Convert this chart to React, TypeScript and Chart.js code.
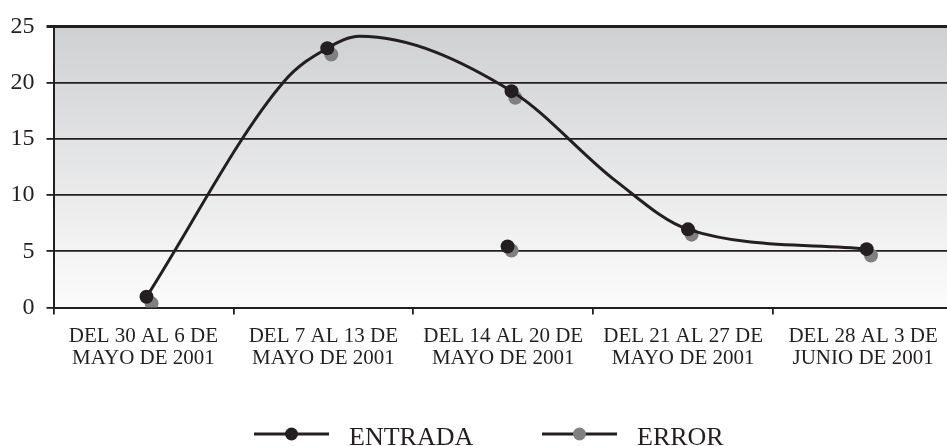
import React, { useEffect, useRef } from "react";
import { Chart, registerables } from "chart.js";

Chart.register(...registerables);

const categories: string[][] = [
  ["DEL 30 AL 6 DE", "MAYO DE 2001"],
  ["DEL 7 AL 13 DE", "MAYO DE 2001"],
  ["DEL 14 AL 20 DE", "MAYO DE 2001"],
  ["DEL 21 AL 27 DE", "MAYO DE 2001"],
  ["DEL 28 AL 3 DE", "JUNIO DE 2001"],
];

// ENTRADA markers (one off-curve marker in the third week)
const entradaX = [0.517, 1.522, 2.546, 2.524, 3.527, 4.52];
const entradaY = [0.95, 23.06, 19.24, 5.42, 6.95, 5.19];

// ENTRADA smoothed curve, vertices
const curveX = [0.517, 1.279, 1.522, 1.701, 2.546, 3.127, 3.527, 4.52];
const curveY = [0.95, 20.06, 23.06, 24.12, 19.24, 11.24, 6.95, 5.19];

// ERROR markers
const errorX = [0.545, 1.544, 2.567, 2.546, 3.547, 4.544];
const errorY = [0.37, 22.5, 18.65, 5.07, 6.48, 4.63];

const yMin = 0;
const yMax = 25;
const yStep = 5;

const seriesNames = ["ENTRADA", "ERROR"];

const DARK = "#231f20";
const GRAY = "#808082";
const FONT = "'Liberation Serif', 'Times New Roman', serif";

const toPoints = (xs: number[], ys: number[]) => xs.map((x, i) => ({ x, y: ys[i] }));

const bgPlugin = {
  id: "bgGradient",
  beforeDraw(chart: any) {
    const { ctx, chartArea } = chart;
    if (!chartArea) return;
    const g = ctx.createLinearGradient(0, chartArea.top, 0, chartArea.bottom);
    g.addColorStop(0, "#cfd0d2");
    g.addColorStop(1, "#fcfcfc");
    ctx.save();
    ctx.fillStyle = g;
    ctx.fillRect(chartArea.left, chartArea.top, chartArea.right - chartArea.left, chartArea.bottom - chartArea.top);
    ctx.restore();
  },
};

const legendPlugin = {
  id: "customLegend",
  afterDraw(chart: any) {
    const { ctx } = chart;
    const items = [
      { name: seriesNames[0], color: DARK, x0: 254 },
      { name: seriesNames[1], color: GRAY, x0: 542 },
    ];
    const y = 434;
    ctx.save();
    items.forEach((it) => {
      ctx.strokeStyle = DARK;
      ctx.lineWidth = 3;
      ctx.beginPath();
      ctx.moveTo(it.x0, y);
      ctx.lineTo(it.x0 + 75, y);
      ctx.stroke();
      ctx.fillStyle = it.color;
      ctx.beginPath();
      ctx.arc(it.x0 + 37.5, y, 6.5, 0, Math.PI * 2);
      ctx.fill();
      ctx.fillStyle = DARK;
      ctx.font = `26px ${FONT}`;
      ctx.textAlign = "left";
      ctx.textBaseline = "alphabetic";
      ctx.fillText(it.name, it.x0 + 95, 445);
    });
    ctx.restore();
  },
};

export default function App() {
  const ref = useRef<HTMLCanvasElement | null>(null);

  useEffect(() => {
    if (!ref.current) return;
    const chart = new Chart(ref.current, {
      type: "scatter",
      data: {
        datasets: [
          {
            label: seriesNames[0],
            data: toPoints(entradaX, entradaY),
            showLine: false,
            backgroundColor: DARK,
            pointBackgroundColor: DARK,
            pointBorderWidth: 0,
            pointRadius: 7,
          },
          {
            label: seriesNames[0] + " curve",
            data: toPoints(curveX, curveY),
            showLine: true,
            cubicInterpolationMode: "monotone",
            borderColor: DARK,
            borderWidth: 3,
            pointRadius: 0,
          },
          {
            label: seriesNames[1],
            data: toPoints(errorX, errorY),
            showLine: false,
            backgroundColor: GRAY,
            pointBackgroundColor: GRAY,
            pointBorderWidth: 0,
            pointRadius: 7,
          },
        ],
      },
      options: {
        animation: false,
        responsive: false,
        layout: { padding: { top: 24, right: 6, left: 0, bottom: 50.5 } },
        plugins: {
          legend: { display: false },
          tooltip: { enabled: false },
        },
        scales: {
          x: {
            type: "linear",
            position: "bottom",
            min: 0,
            max: categories.length,
            weight: 0,
            ticks: { stepSize: 1, display: false },
            grid: {
              drawOnChartArea: false,
              drawTicks: true,
              tickLength: 7,
              color: DARK,
              lineWidth: 1.8,
            },
            border: { display: true, color: DARK, width: 2 },
            afterFit(scale: any) {
              scale.height = 8;
            },
          },
          xLabels: {
            type: "category",
            position: "bottom",
            labels: categories,
            offset: true,
            weight: 1,
            grid: { display: false, drawTicks: false, tickLength: 0 },
            border: { display: false },
            ticks: {
              autoSkip: false,
              maxRotation: 0,
              minRotation: 0,
              padding: 9.5,
              color: DARK,
              font: { family: FONT, size: 21, lineHeight: "22px" },
            },
            afterFit(scale: any) {
              scale.height = 80;
            },
          },
          y: {
            min: yMin,
            max: yMax,
            ticks: {
              stepSize: yStep,
              padding: 12,
              color: DARK,
              font: { family: FONT, size: 24 },
            },
            grid: {
              color: DARK,
              lineWidth: (c: any) => (c.tick && c.tick.value === yMax ? 3 : 1.8),
              tickLength: 7,
              drawTicks: true,
            },
            border: { display: true, color: DARK, width: 2 },
            afterFit(scale: any) {
              scale.width = 53.5;
            },
          },
        },
      },
      plugins: [bgPlugin, legendPlugin],
    } as any);
    return () => chart.destroy();
  }, []);

  return (
    <div style={{ position: "absolute", left: 0, top: 0, width: 947, height: 446, overflow: "hidden", background: "#fff" }}>
      <canvas ref={ref} width={960} height={446} style={{ display: "block" }} />
    </div>
  );
}
